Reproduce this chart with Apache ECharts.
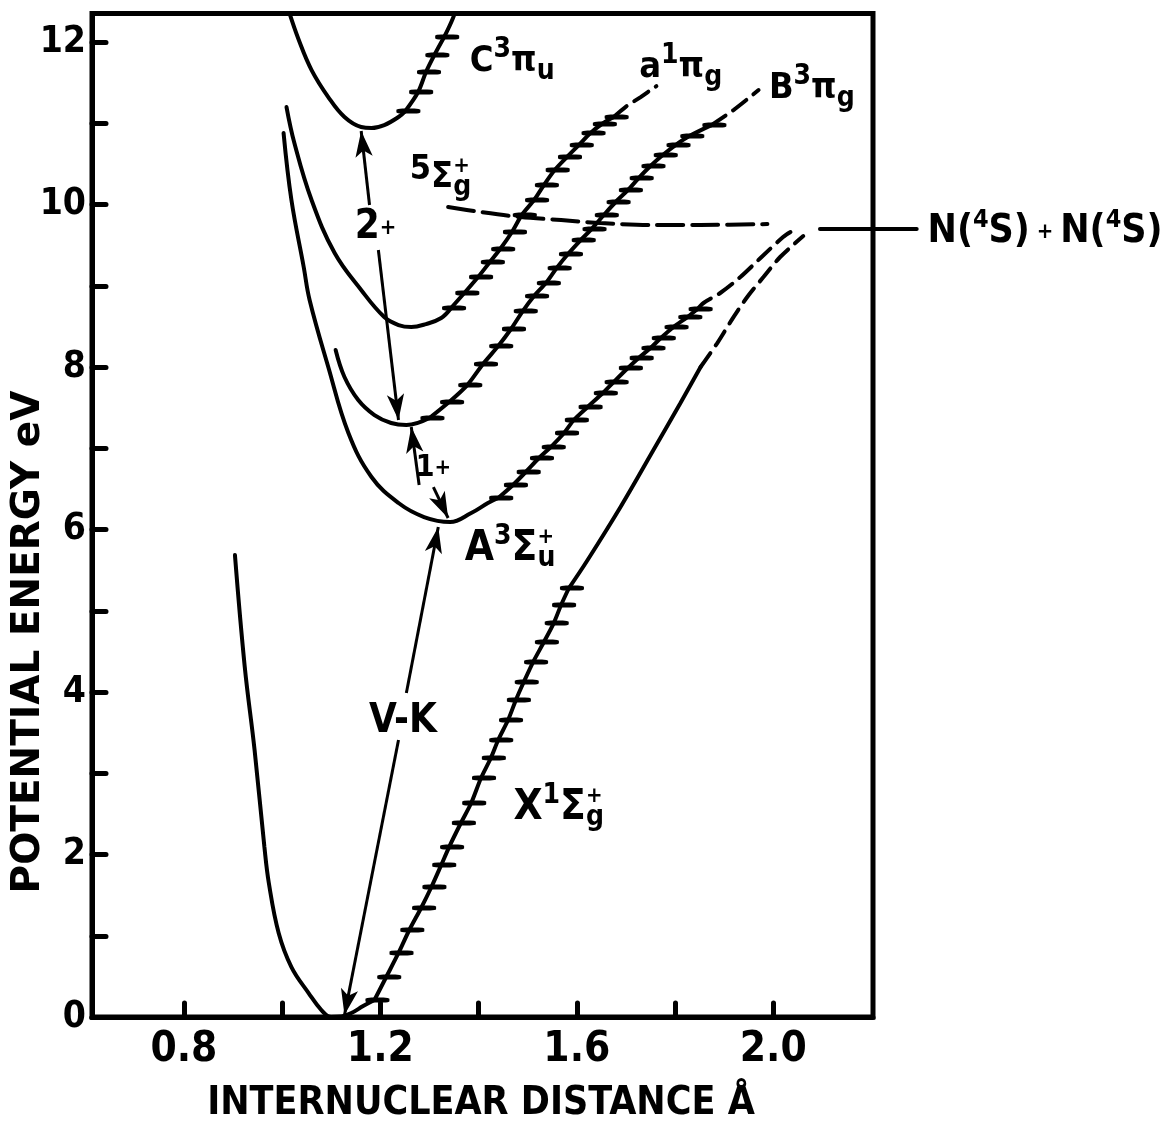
<!DOCTYPE html>
<html>
<head>
<meta charset="utf-8">
<title>N2 potential energy curves</title>
<script src="https://cdn.jsdelivr.net/npm/echarts@6/dist/echarts.min.js"></script>
<style>
  html, body { margin: 0; padding: 0; background: #fff; }
  #n2-potential-chart { width: 1174px; height: 1122px; }
</style>
</head>
<body>
<div id="n2-potential-chart"></div>
<script>
// axis ticks / labels
const xTicks = [0.8, 1.0, 1.2, 1.4, 1.6, 1.8, 2.0]
const xTickLabels = [0.8, 1.2, 1.6, 2.0]
const yTicks = [0, 1, 2, 3, 4, 5, 6, 7, 8, 9, 10, 11, 12]
const yTickLabels = [0, 2, 4, 6, 8, 10, 12]

// X 1Σg+ ground state
const xWall = [[0.904, 5.686], [0.924, 4.308], [0.944, 3.286], [0.964, 2.092], [0.973, 1.649], [0.993, 1.034], [1.019, 0.615], [1.054, 0.295], [1.080, 0.086], [1.100, 0.0], [1.121, 0.006], [1.141, 0.049], [1.165, 0.135], [1.188, 0.209]]
const xLevels = [[1.188, 0.209], [1.212, 0.492], [1.237, 0.788], [1.259, 1.071], [1.283, 1.342], [1.304, 1.600], [1.324, 1.871], [1.340, 2.092], [1.364, 2.388], [1.385, 2.634], [1.405, 2.942], [1.425, 3.188], [1.440, 3.409], [1.460, 3.655], [1.476, 3.902], [1.492, 4.123], [1.511, 4.369], [1.533, 4.615], [1.553, 4.849], [1.568, 5.071], [1.584, 5.280]]
const xUpper = [[1.584, 5.280], [1.622, 5.625], [1.689, 6.277], [1.756, 6.978], [1.811, 7.557], [1.852, 8.000]]
const xDiss = [[1.852, 8.000], [1.886, 8.295], [1.919, 8.615], [1.947, 8.862], [1.980, 9.108], [2.014, 9.354], [2.061, 9.612]]

// A 3Σu+
const aWall = [[1.003, 10.880], [1.019, 10.055], [1.044, 9.231], [1.056, 8.825], [1.094, 8.000], [1.135, 7.188], [1.182, 6.646], [1.237, 6.326], [1.289, 6.154], [1.342, 6.092], [1.385, 6.203], [1.419, 6.326], [1.440, 6.388]]
const aLevels = [[1.440, 6.388], [1.470, 6.548], [1.496, 6.708], [1.523, 6.880], [1.547, 7.015], [1.574, 7.188], [1.594, 7.348], [1.622, 7.508], [1.653, 7.680], [1.675, 7.815], [1.704, 7.988], [1.726, 8.111], [1.750, 8.234], [1.771, 8.357], [1.797, 8.492], [1.825, 8.615], [1.846, 8.714]]
const aDiss = [[1.846, 8.714], [1.858, 8.788], [1.892, 8.911], [1.933, 9.108], [1.974, 9.342], [2.020, 9.600], [2.035, 9.662]]

// B 3Πg
const bWall = [[1.109, 8.209], [1.127, 7.877], [1.155, 7.594], [1.188, 7.409], [1.222, 7.311], [1.253, 7.286], [1.300, 7.372]]
const bLevels = [[1.300, 7.372], [1.340, 7.569], [1.377, 7.778], [1.409, 8.037], [1.440, 8.258], [1.466, 8.468], [1.490, 8.689], [1.513, 8.874], [1.537, 9.034], [1.559, 9.218], [1.582, 9.391], [1.608, 9.563], [1.630, 9.698], [1.655, 9.871], [1.679, 10.031], [1.704, 10.178], [1.726, 10.326], [1.750, 10.474], [1.775, 10.609], [1.801, 10.732], [1.829, 10.843], [1.874, 10.978]]
const bDiss = [[1.874, 10.978], [1.919, 11.163], [1.970, 11.409]]

// a 1Πg
const sWall = [[1.009, 11.200], [1.025, 10.757], [1.060, 10.055], [1.107, 9.403], [1.161, 8.948], [1.208, 8.615], [1.237, 8.517], [1.263, 8.492], [1.293, 8.529], [1.324, 8.603], [1.344, 8.726]]
const sLevels = [[1.344, 8.726], [1.371, 8.911], [1.399, 9.108], [1.423, 9.292], [1.444, 9.452], [1.468, 9.662], [1.488, 9.871], [1.513, 10.055], [1.533, 10.240], [1.555, 10.425], [1.580, 10.585], [1.604, 10.732], [1.628, 10.880], [1.651, 10.991], [1.675, 11.077]]
const sDiss = [[1.675, 11.077], [1.699, 11.200], [1.730, 11.323], [1.762, 11.458]]

// C 3Πu
const cWall = [[1.013, 12.394], [1.034, 12.025], [1.060, 11.655], [1.094, 11.323], [1.127, 11.077], [1.161, 10.954], [1.182, 10.942], [1.208, 10.978], [1.237, 11.077], [1.251, 11.151]]
const cLevels = [[1.251, 11.151], [1.277, 11.385], [1.293, 11.631], [1.310, 11.840], [1.330, 12.062]]
const cTop = [[1.330, 12.062], [1.348, 12.295], [1.356, 12.45]]

// 5Σg+ and the N(4S)+N(4S) limit
const quintet = [[1.338, 9.969], [1.405, 9.908], [1.486, 9.846], [1.568, 9.809], [1.649, 9.772], [1.750, 9.748], [1.852, 9.748], [1.988, 9.760]]
const limit = [[2.095, 9.698], [2.292, 9.698]]

// transitions: [from, to]
const arrows = [
  [[1.178, 9.994], [1.161, 10.905]],
  [[1.196, 9.440], [1.237, 7.348]],
  [[1.279, 6.548], [1.263, 7.262]],
  [[1.308, 6.523], [1.338, 6.142]],
  [[1.253, 3.988], [1.318, 6.031]],
  [[1.237, 3.409], [1.127, 0.025]]
]

// text labels (left edge, vertical middle)
const labelPos = [[1.381, 11.754], [1.726, 11.680], [1.990, 11.422], [1.259, 10.326], [1.371, 5.760], [1.470, 2.572], [1.147, 9.711], [1.271, 6.757], [1.176, 3.631], [2.313, 9.662]]
const labelText = [
  '{m|C}{sup|3}{m|π}{sub|u}',
  '{m|a}{sup|1}{m|π}{sub|g}',
  '{m|B}{sup|3}{m|π}{sub|g}',
  '{five|5}{m|Σ}{pl|+}{sub|g}',
  '{M|A}{sup|3}{M|Σ}{pl|+}{sub|u}',
  '{M|X}{sup|1}{M|Σ}{pl|+}{sub|g}',
  '{n|2}{dot|+}',
  '{one|1}{dot|+}',
  '{n|V-K}',
  '{N|N(}{nsup|4}{N|S)}{dot| + }{N|N(}{nsup|4}{N|S)}'
]

const FONT = '"DejaVu Sans Condensed", "DejaVu Sans", sans-serif'
const WIDE_FONT = '"DejaVu Sans", sans-serif'

function tok (size, extra) {
  return Object.assign({ fontFamily: FONT, fontWeight: 'bold', color: '#000', fontSize: size, lineHeight: 64 }, extra || {})
}

const rich = {
  m: tok(36),
  M: tok(42),
  n: tok(40),
  N: tok(39),
  one: tok(30),
  five: tok(34, { padding: [0, 0, 16, 0] }),
  sup: tok(28, { padding: [0, 0, 24, 0] }),
  nsup: tok(25, { padding: [0, 0, 22, 0] }),
  sub: tok(28, { padding: [20, 0, 0, 0] }),
  pl: tok(22, { width: 0, padding: [0, 0, 24, 0] }),
  dot: tok(22)
}

const lineBase = { color: '#000', width: 4, cap: 'round' }

function solid (data) {
  return { type: 'line', data: data, smooth: 0.4, showSymbol: false, lineStyle: lineBase }
}
function hashed (data) {
  return {
    type: 'line', data: data, smooth: 0.3,
    symbol: 'roundRect', symbolSize: [24, 5], symbolOffset: [3, 0], showSymbol: true,
    itemStyle: { color: '#000' }, lineStyle: lineBase
  }
}
function dashed (data, dash) {
  return { type: 'line', data: data, smooth: 0.3, showSymbol: false, lineStyle: Object.assign({}, lineBase, { type: dash || [17, 9] }) }
}

let myChart = echarts.init(document.getElementById('n2-potential-chart'))

let axisLine = { show: true, onZero: false, lineStyle: { color: '#000', width: 5, cap: 'round' } }
let axisTick = { show: true, inside: true, length: 14, lineStyle: { color: '#000', width: 5, cap: 'round' } }

let quintetSeries = dashed(quintet, [26, 9])
quintetSeries.markLine = {
  silent: true,
  symbol: ['none', 'arrow'],
  symbolSize: [13, 26],
  label: { show: false },
  lineStyle: { color: '#000', width: 3, type: 'solid' },
  data: arrows.map(a => [{ coord: a[0] }, { coord: a[1] }])
}

let option = {
  animation: false,
  backgroundColor: '#fff',
  grid: { left: 92, right: 301, top: 13.6, bottom: 105, show: true, borderColor: '#000', borderWidth: 5 },
  xAxis: {
    type: 'value', min: 0.613, max: 2.203,
    axisLine: axisLine,
    axisTick: Object.assign({ customValues: xTicks }, axisTick),
    axisLabel: { customValues: xTickLabels, formatter: v => v.toFixed(1), color: '#000', fontSize: 42, fontWeight: 'bold', fontFamily: FONT, margin: 12 },
    splitLine: { show: false }
  },
  yAxis: {
    type: 'value', min: 0, max: 12.35,
    axisLine: axisLine,
    axisTick: Object.assign({ customValues: yTicks }, axisTick),
    axisLabel: { customValues: yTickLabels, color: '#000', fontSize: 37, fontWeight: 'bold', fontFamily: FONT, margin: 6 },
    splitLine: { show: false }
  },
  graphic: [
    { id: 'yTitle', type: 'text', x: 29, y: 642, rotation: Math.PI / 2, style: { text: 'POTENTIAL ENERGY eV', fontSize: 39, fontWeight: 'bold', fontFamily: WIDE_FONT, fill: '#000', align: 'center', verticalAlign: 'middle' } },
    { id: 'xTitle', type: 'text', x: 481, y: 1104, style: { text: 'INTERNUCLEAR DISTANCE Å', fontSize: 39, fontWeight: 'bold', fontFamily: FONT, fill: '#000', align: 'center', verticalAlign: 'middle' } }
  ],
  series: [
    solid(xWall), hashed(xLevels), solid(xUpper), dashed(xDiss),
    solid(aWall), hashed(aLevels), dashed(aDiss),
    solid(bWall), hashed(bLevels), dashed(bDiss),
    solid(sWall), hashed(sLevels), dashed(sDiss),
    solid(cWall), hashed(cLevels), solid(cTop),
    quintetSeries,
    {
      type: 'scatter', clip: false, silent: true, symbolSize: 1,
      itemStyle: { color: 'rgba(0,0,0,0)', opacity: 1 },
      label: { show: true, position: 'right', distance: 0, color: '#000', opacity: 1, fontFamily: FONT, fontWeight: 'bold', rich: rich },
      data: labelPos.map((p, i) => ({ value: p, label: { formatter: labelText[i] } }))
    }
  ]
}
myChart.setOption(option)

// the dissociation limit runs out past the frame, so it is drawn from the axis scale as a graphic
let limitPx = limit.map(p => myChart.convertToPixel({ gridIndex: 0 }, p))
myChart.setOption({
  graphic: [{
    id: 'limitLine', type: 'polyline', silent: true,
    shape: { points: limitPx },
    style: { stroke: '#000', lineWidth: 4, lineCap: 'round', fill: null }
  }]
})
</script>
</body>
</html>
